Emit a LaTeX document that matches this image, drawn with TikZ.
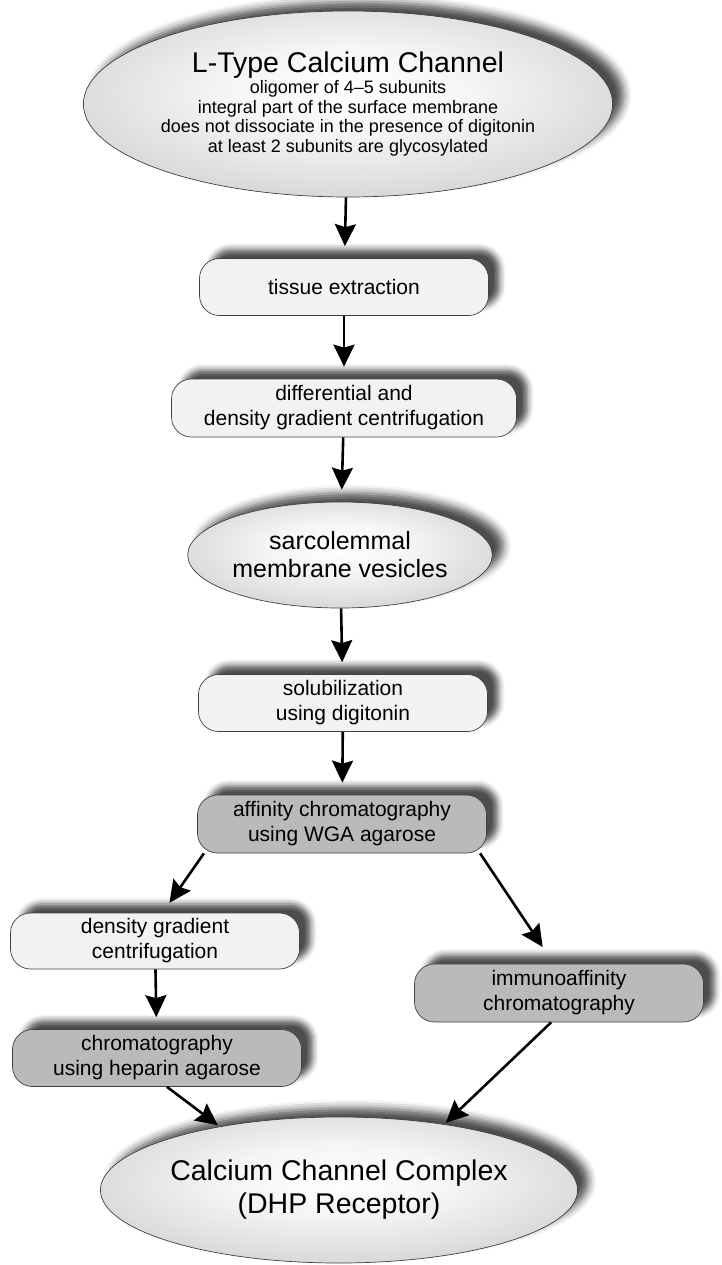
\documentclass[tikz,border=0pt]{standalone}
\usepackage{fontspec}
\setmainfont{Liberation Sans}
\usetikzlibrary{shapes.geometric,arrows.meta,shadows.blur}

\pgfdeclareradialshading{ovalshade}{\pgfpoint{0bp}{4bp}}{%
    color(0bp)=(white); color(12bp)=(black!4); color(30bp)=(black!17);
    color(42bp)=(black!30); color(50bp)=(black!40); color(70bp)=(black!45)}

\begin{document}
\begin{tikzpicture}
        [x=1pt, y=-1pt,
        oval/.style={ellipse, draw=black!75, line width=0.7pt, inner sep=0pt, align=center,
            shading=ovalshade,
            blur shadow={shadow xshift=11pt, shadow yshift=9pt, shadow blur radius=8pt, shadow opacity=70}},
        stepbox/.style={rectangle, rounded corners=20pt, draw=black!75, line width=0.7pt,
            minimum width=289pt, minimum height=57pt, inner sep=0pt, align=center,
            font=\fontsize{21}{25}\selectfont,
            blur shadow={shadow xshift=11pt, shadow yshift=9pt, shadow blur radius=6pt, shadow opacity=70}},
        light/.style={stepbox, fill=black!5},
        dark/.style={stepbox, fill=black!27},
        flow/.style={line width=2.6pt, -{Stealth[length=22pt,width=21pt,inset=3pt]}, shorten >=12pt}]

        \useasboundingbox (0,0) rectangle (722,1265);

        \node[oval, minimum width=416pt, minimum height=186pt, font=\fontsize{18}{19.5}\selectfont] (chan) at (348,104)
            {{\fontsize{28.5}{30}\selectfont L-Type Calcium Channel}\\[2pt]
             oligomer of 4--5 subunits\\
             integral part of the surface membrane\\
             does not dissociate in the presence of digitonin\\
             at least 2 subunits are glycosylated};
        \node[light] (tissue) at (344,287) {tissue extraction};
        \node[light, minimum width=345pt, minimum height=58pt] (diff) at (344,408) {differential and\\density gradient centrifugation};
        \node[oval, minimum width=252pt, minimum height=106pt, font=\fontsize{25}{28}\selectfont] (sarc) at (340,555) {sarcolemmal\\membrane vesicles};
        \node[light] (solub) at (343,703) {solubilization\\using digitonin};
        \node[dark, minimum height=58pt] (wga) at (342,824) {affinity chromatography\\using WGA agarose};
        \node[light, minimum height=56pt] (dens) at (155,941) {density gradient\\centrifugation};
        \node[dark] (hep) at (157,1058) {chromatography\\using heparin agarose};
        \node[dark, minimum height=58pt] (immuno) at (559,993) {immunoaffinity\\chromatography};
        \node[oval, minimum width=382pt, minimum height=146pt, font=\fontsize{28.5}{33}\selectfont] (dhp) at (339,1190) {Calcium Channel Complex\\(DHP Receptor)};

        % main column
        \draw[flow] (chan) -- (tissue);
        \draw[flow] (tissue) -- (diff);
        \draw[flow] (diff) -- (sarc);
        \draw[flow] (sarc) -- (solub);
        \draw[flow] (solub) -- (wga);

        % two branches
        \draw[flow] (wga.192) -- (dens.75);
        \draw[flow] (dens) -- (hep);
        \draw[flow, shorten >=20pt] (wga.-12.5) -- (immuno.100);

        % into the complex
        \draw[flow, shorten >=2pt] (hep.-71) -- (dhp.152);
        \draw[flow, shorten >=2pt] (immuno.-105) -- (dhp.32);
    \end{tikzpicture}
\end{document}
